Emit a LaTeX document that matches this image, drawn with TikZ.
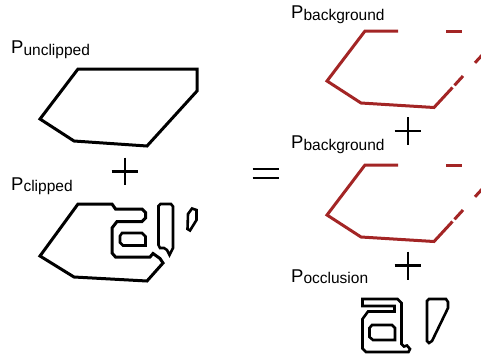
\documentclass[tikz,border=0pt]{standalone}
\usepackage{fontspec}
\setmainfont{Liberation Sans}
\definecolor{bgred}{HTML}{A32525}
\newcommand{\plabel}[1]{{\fontsize{18.5}{19}\selectfont P}{\fontsize{15.5}{16}\selectfont\raisebox{-1.7pt}{#1}}}

\begin{document}
\begin{tikzpicture}[x=1pt, y=-1pt,
  outline/.style={line width=3pt},
  glyph/.style={line width=2.6pt},
  bgline/.style={bgred, line width=3pt},
  lbl/.style={anchor=base west, inner sep=0pt},
  sign/.style={line width=2.2pt}]
  \useasboundingbox (0,0) rectangle (481,360);

  % labels
  \node[lbl] (unclipped)   at (11,53.5)  {\plabel{unclipped}};
  \node[lbl] (clipped)     at (11,190)   {\plabel{clipped}};
  \node[lbl] (background1) at (291,18.5) {\plabel{background}};
  \node[lbl] (background2) at (291,148.5) {\plabel{background}};
  \node[lbl] (occlusion)   at (291,282)  {\plabel{occlusion}};

  % left column
  \draw[outline] (78,69) -- (197,69) -- (197,91) -- (147,146) -- (74,141) -- (40,119) -- cycle;
  \draw[sign] (111.7,171.5) -- (138.3,171.5) (125,157.5) -- (125,185);
  \draw[outline] (40,256) -- (78,204) -- (112,204) -- (115.5,209) -- (142,209) -- (145.5,212.5)
    -- (145.5,218) -- (142,221.5) -- (117,221.5) -- (112,228) -- (112,253) -- (115.5,257)
    -- (150,257) -- (153,253.5) -- (156.5,256) -- (160,258.5) -- (163,263) -- (147,281)
    -- (74,277) -- cycle;
  \draw[glyph] (122,233) -- (142,233) -- (145.5,236.5) -- (145.5,245.5) -- (123,245.5)
    -- (120,242.5) -- (120,236) -- cycle;
  \draw[glyph] (158.5,206) -- (160.5,204) -- (171,204) -- (173,206.5) -- (173,248)
    -- (169.5,255) -- (167,250) -- (164,248) -- (160,248) -- (158.5,245) -- cycle;
  \draw[glyph] (188,214) -- (192,208.5) -- (196.5,210) -- (196.5,220) -- (190,230.5)
    -- (187.5,229) -- cycle;

  % equals
  \draw[sign] (252.7,169) -- (279.3,169) (252.7,178.3) -- (279.3,178.3);

  % right column, background 1
  \draw[bgline] (398,31) -- (365,31) -- (327,81) -- (361,103) -- (434,107.5) -- (452.5,87.5);
  \draw[bgline] (446,31) -- (462,31);
  \draw[bgline] (454.5,85.3) -- (463,76);
  \draw[bgline] (475,62.8) -- (482,55.2);
  \draw[sign] (394.5,131) -- (421,131) (407.7,117) -- (407.7,145);

  % background 2
  \draw[bgline] (398,165) -- (365,165) -- (327,215) -- (361,237) -- (434,241.5) -- (452.5,221.5);
  \draw[bgline] (446,165) -- (462,165);
  \draw[bgline] (454.5,219.3) -- (463,210);
  \draw[bgline] (475,196.8) -- (482,189.2);
  \draw[sign] (394.5,265.5) -- (421,265.5) (407.7,251.7) -- (407.7,280);

  % occlusion glyphs
  \draw[glyph] (362.5,299) -- (397.5,299) -- (401.5,303) -- (401.5,344) -- (404,346.5)
    -- (407,345.5) -- (410,349) -- (408.5,352) -- (366,352) -- (362.5,348.5) -- (362.5,319)
    -- (368,311.5) -- (394.5,311.5) -- (394.5,306) -- (362.5,306) -- cycle;
  \draw[glyph] (372,325) -- (392,325) -- (395,328) -- (395,340) -- (373,340) -- (369.5,337)
    -- (369.5,328) -- cycle;
  \draw[glyph] (427,301) -- (429,299) -- (446,299) -- (448,302) -- (448,308) -- (432,341)
    -- (429,343) -- (427,341) -- cycle;
\end{tikzpicture}
\end{document}
